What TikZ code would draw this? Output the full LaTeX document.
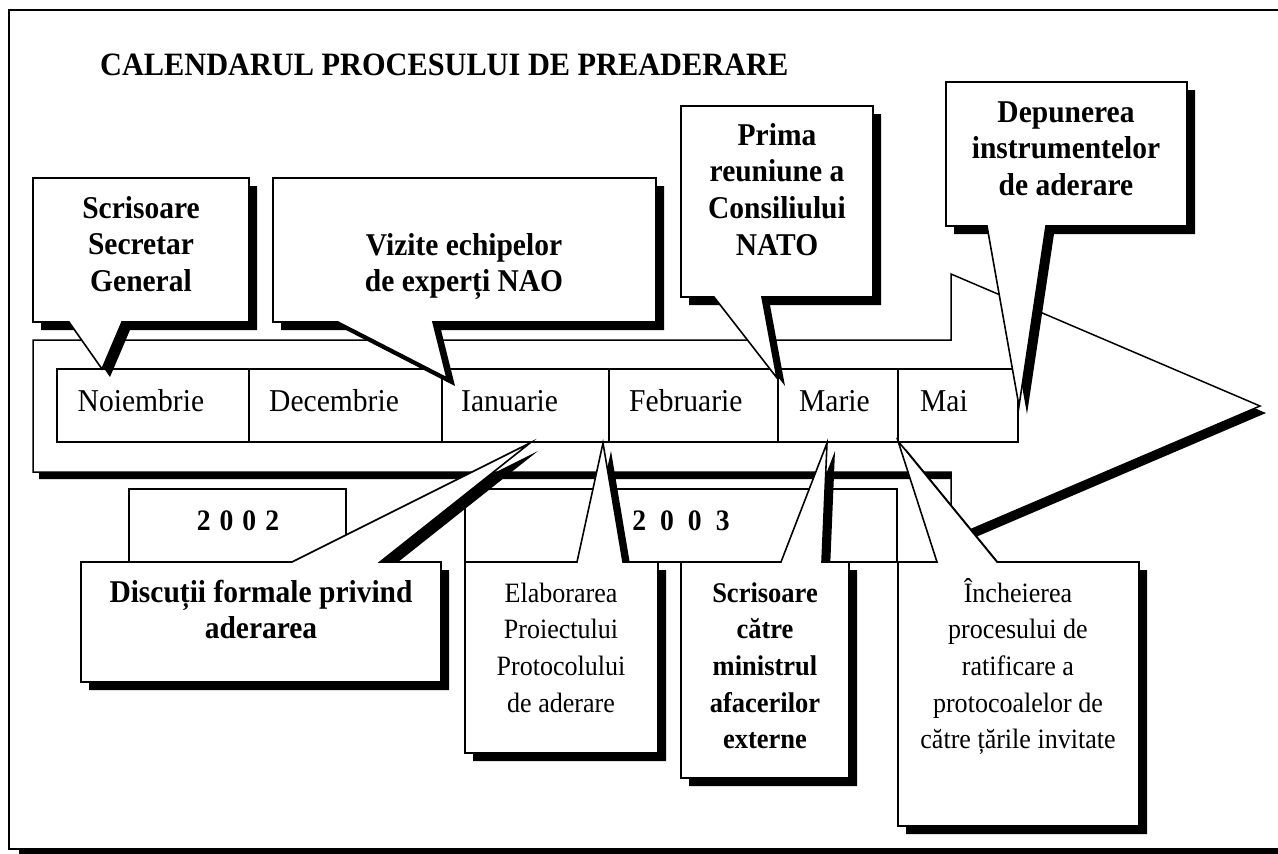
\documentclass[tikz,border=0pt]{standalone}
\usepackage{fontspec}
\setmainfont{Liberation Serif}[FakeStretch=0.93]

% one text node per line, stacked on a fixed baseline grid
\newcommand\textlines[5]{%
  \foreach \t [count=\i] in {#5}{%
    \node[#4, anchor=base] (#1-\i) at (#2, {#3+36.7*\i-36.7}) {\t};}}

\begin{document}
\begin{tikzpicture}[x=1pt, y=-1pt,
  shadowed/.style={preaction={fill=black, transform canvas={shift={(#1)}}}},
  shadowed/.default={8,8},
  outline/.style={draw=black, fill=white, line width=1.6pt, line join=miter},
  cell/.style={draw=black, line width=1.2pt},
  titlefont/.style={font=\fontsize{32.6}{36}\selectfont\bfseries},
  monthfont/.style={font=\fontsize{31.8}{36}\selectfont, inner sep=0pt},
  bigbold/.style={font=\fontsize{31.7}{36.7}\selectfont\bfseries, inner sep=0pt},
  smallbold/.style={font=\fontsize{28.5}{36.7}\selectfont\bfseries, inner sep=0pt},
  smallreg/.style={font=\fontsize{28}{36.7}\selectfont, inner sep=0pt},
  yearfont/.style={font=\fontsize{29.7}{36}\selectfont\bfseries, inner sep=0pt},
]
\useasboundingbox (0,0) rectangle (1278,854);
\fill[white] (0,0) rectangle (1278,854);

% outer frame
\path[draw=black, fill=white, line width=2.5pt, shadowed={10,8}] (9,10) rectangle (1295,849);

% title
\node[titlefont, anchor=base west, inner sep=0pt] (title) at (100,75)
  {CALENDARUL PROCESULUI DE PREADERARE};

% timeline arrow
\path[outline, line width=1.5pt, shadowed={6,7}]
  (33,340) -- (951,340) -- (951,274) -- (1260,406) -- (951,538) -- (951,472) -- (33,472) -- cycle;

% month cells
\draw[cell] (57,369) rectangle (1018,442);
\foreach \x in {249,442,609,778,898} \draw[cell] (\x,369) -- (\x,442);
\node[monthfont, anchor=base west] (m1) at (77.5,411) {Noiembrie};
\node[monthfont, anchor=base west] (m2) at (269,411) {Decembrie};
\node[monthfont, anchor=base west] (m3) at (461,411) {Ianuarie};
\node[monthfont, anchor=base west] (m4) at (629,411) {Februarie};
\node[monthfont, anchor=base west] (m5) at (799,411) {Marie};
\node[monthfont, anchor=base west] (m6) at (920,411) {Mai};

% year tabs
\path[outline, line width=1.5pt] (129,489) rectangle (346,562);
\path[outline, line width=1.5pt] (465,489) rectangle (897,562);
\node[yearfont, anchor=base] (y1) at (238,530) {\spaceskip=9pt\relax 2 0 0 2};
\node[yearfont, anchor=base] (y2) at (681,530) {\spaceskip=14pt\relax 2 0 0 3};

% callouts above the timeline
\path[outline, shadowed] (33,178) -- (249,178) -- (249,322) -- (122,322) -- (102,369) -- (69,322) -- (33,322) -- cycle;
\textlines{c1}{141}{218}{bigbold}{Scrisoare, Secretar, General}

\path[outline, shadowed] (273,178) -- (656,178) -- (656,322) -- (433,322) -- (447,378) -- (338,322) -- (273,322) -- cycle;
\textlines{c2}{464}{255}{bigbold}{Vizite echipelor, de experți NAO}

\path[outline, shadowed] (681,106) -- (873,106) -- (873,297) -- (762,297) -- (777,378) -- (714,297) -- (681,297) -- cycle;
\textlines{c3}{777}{145}{bigbold}{Prima, reuniune a, Consiliului, NATO}

\path[outline, shadowed] (946,82) -- (1187,82) -- (1187,226) -- (1046,226) -- (1019,406) -- (987,226) -- (946,226) -- cycle;
\textlines{c4}{1066}{122}{bigbold}{Depunerea, instrumentelor, de aderare}

% callouts below the timeline
\path[outline, shadowed] (81,562) -- (292,562) -- (530,443) -- (380,562) -- (441,562) -- (441,682) -- (81,682) -- cycle;
\textlines{c5}{261}{602}{bigbold}{Discuții formale privind, aderarea}

\path[outline, shadowed] (465,562) -- (577,562) -- (603,443) -- (623,562) -- (658,562) -- (658,753) -- (465,753) -- cycle;
\textlines{c6}{561}{602}{smallreg}{Elaborarea, Proiectului, Protocolului, de aderare}

\path[outline, shadowed] (681,562) -- (781,562) -- (827,443) -- (822,562) -- (849,562) -- (849,778) -- (681,778) -- cycle;
\textlines{c7}{765}{602}{smallbold}{Scrisoare, către, ministrul, afacerilor, externe}

\path[outline, shadowed] (898,562) -- (937,562) -- (898,441) -- (997,562) -- (1139,562) -- (1139,826) -- (898,826) -- cycle;
\textlines{c8}{1018}{602}{smallreg}{Încheierea, procesului de, ratificare a, protocoalelor de, către țările invitate}
\end{tikzpicture}
\end{document}
